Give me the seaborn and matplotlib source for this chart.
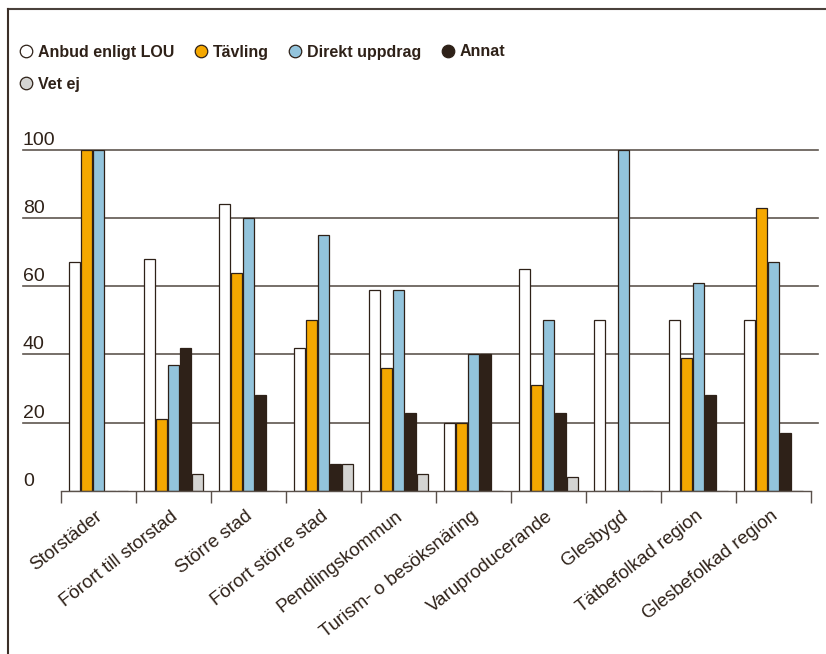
import numpy as np
import pandas as pd
import seaborn as sns
import matplotlib.pyplot as plt
import matplotlib.transforms as mtransforms
from matplotlib.lines import Line2D
from matplotlib import font_manager as fm

# data (percent)
kategorier = ["Storstäder", "Förort till storstad", "Större stad", "Förort större stad",
              "Pendlingskommun", "Turism- o besöksnäring", "Varuproducerande",
              "Glesbygd", "Tätbefolkad region", "Glesbefolkad region"]
serier = ["Anbud enligt LOU", "Tävling", "Direkt uppdrag", "Annat", "Vet ej"]
anbud = [67, 68, 84, 42, 59, 20, 65, 50, 50, 50]
tavling = [100, 21, 64, 50, 36, 20, 31, 0, 39, 83]
direkt = [100, 37, 80, 75, 59, 40, 50, 100, 61, 67]
annat = [0, 42, 28, 8, 23, 40, 23, 0, 28, 17]
vet_ej = [0, 5, 0, 8, 5, 0, 4, 0, 0, 0]
y_ticks = [0, 20, 40, 60, 80, 100]

farger = ["#ffffff", "#f5a800", "#93c4dc", "#2e2118", "#d4d4d2"]
mork = "#2e2118"
linje = "#5f564f"

plt.rcParams["font.family"] = ["Liberation Sans", "DejaVu Sans"]
plt.rcParams["text.color"] = mork

# narrow bold face for the legend if one is installed
namn = {f.name for f in fm.fontManager.ttflist}
smal = [n for n in ["Liberation Sans Narrow", "DejaVu Sans Condensed"] if n in namn]
legend_font = smal[:1] + ["Liberation Sans"]
legend_size = 12.5 if smal else 11.5

df = pd.DataFrame({
    "kategori": kategorier * 5,
    "svar": np.repeat(serier, len(kategorier)),
    "andel": anbud + tavling + direkt + annat + vet_ej,
})

W, H = 826, 654
fig = plt.figure(figsize=(W / 100, H / 100), dpi=100)
ax = fig.add_axes([61 / W, 163 / H, 750 / W, 341.3 / H])

sns.barplot(data=df, x="kategori", y="andel", hue="svar", order=kategorier,
            hue_order=serier, palette=farger, saturation=1, errorbar=None,
            edgecolor=mork, linewidth=0.9, width=0.8, gap=0.08, legend=False,
            ax=ax, zorder=2)

ax.set_xlim(-0.5, 9.5)
ax.set_ylim(0, 100)
ax.set_xlabel("")
ax.set_ylabel("")
ax.set_yticks([])
for s in ["left", "right", "top"]:
    ax.spines[s].set_visible(False)
ax.spines["bottom"].set_color("#5a514b")
ax.spines["bottom"].set_linewidth(1.0)

# gridlines run past the plot on both sides, labels sit above them
trans = mtransforms.blended_transform_factory(ax.transAxes, ax.transData)
x0 = (23 - 61) / 750
x1 = (818 - 61) / 750
for y in y_ticks[1:]:
    ax.plot([x0, x1], [y, y], transform=trans, color=linje, lw=1.2,
            clip_on=False, zorder=0.5)
lbl_trans = mtransforms.offset_copy(trans, fig=fig, y=3.6, units="points")
for y in y_ticks:
    ax.text(x0, y, str(y), transform=lbl_trans, ha="left", va="baseline",
            fontsize=14, color=mork)

# x axis: ticks between groups, rotated labels
ax.set_xticks(np.arange(-0.5, 10, 1), minor=True)
ax.tick_params(axis="x", which="minor", length=8.6, width=1, color="#5a514b")
ax.tick_params(axis="x", which="major", length=0, pad=12, labelsize=13.5,
               labelcolor=mork)
skift = mtransforms.ScaledTranslation(-0.03, 0, fig.dpi_scale_trans)
for lbl in ax.get_xticklabels():
    lbl.set_rotation(38)
    lbl.set_ha("right")
    lbl.set_va("top")
    lbl.set_rotation_mode("anchor")
    lbl.set_transform(lbl.get_transform() + skift)

# frame lines top and left
fig.add_artist(Line2D([8 / W, 1], [1 - 9 / H, 1 - 9 / H], transform=fig.transFigure,
                      color="#4a413b", lw=1.5))
fig.add_artist(Line2D([8 / W, 8 / W], [0, 1 - 9 / H], transform=fig.transFigure,
                      color="#3b2f28", lw=1.5))

# legend, order so that "Vet ej" ends up alone on row two
ordning = [0, 4, 1, 2, 3]
handles = [Line2D([], [], marker="o", ls="", markersize=9,
                  markerfacecolor=farger[i], markeredgecolor=mork,
                  markeredgewidth=0.9) for i in ordning]
labels = [serier[i] for i in ordning]
fig.legend(handles, labels, loc="upper left", bbox_to_anchor=(19.7 / W, 1 - 44.5 / H),
           ncol=4, frameon=False, borderpad=0, borderaxespad=0, handlelength=0.8,
           handletextpad=0.35, columnspacing=1.25, labelspacing=1.1,
           labelcolor=mork,
           prop=dict(family=legend_font, weight="bold", size=legend_size))

fig.savefig("out.png", dpi=100)
